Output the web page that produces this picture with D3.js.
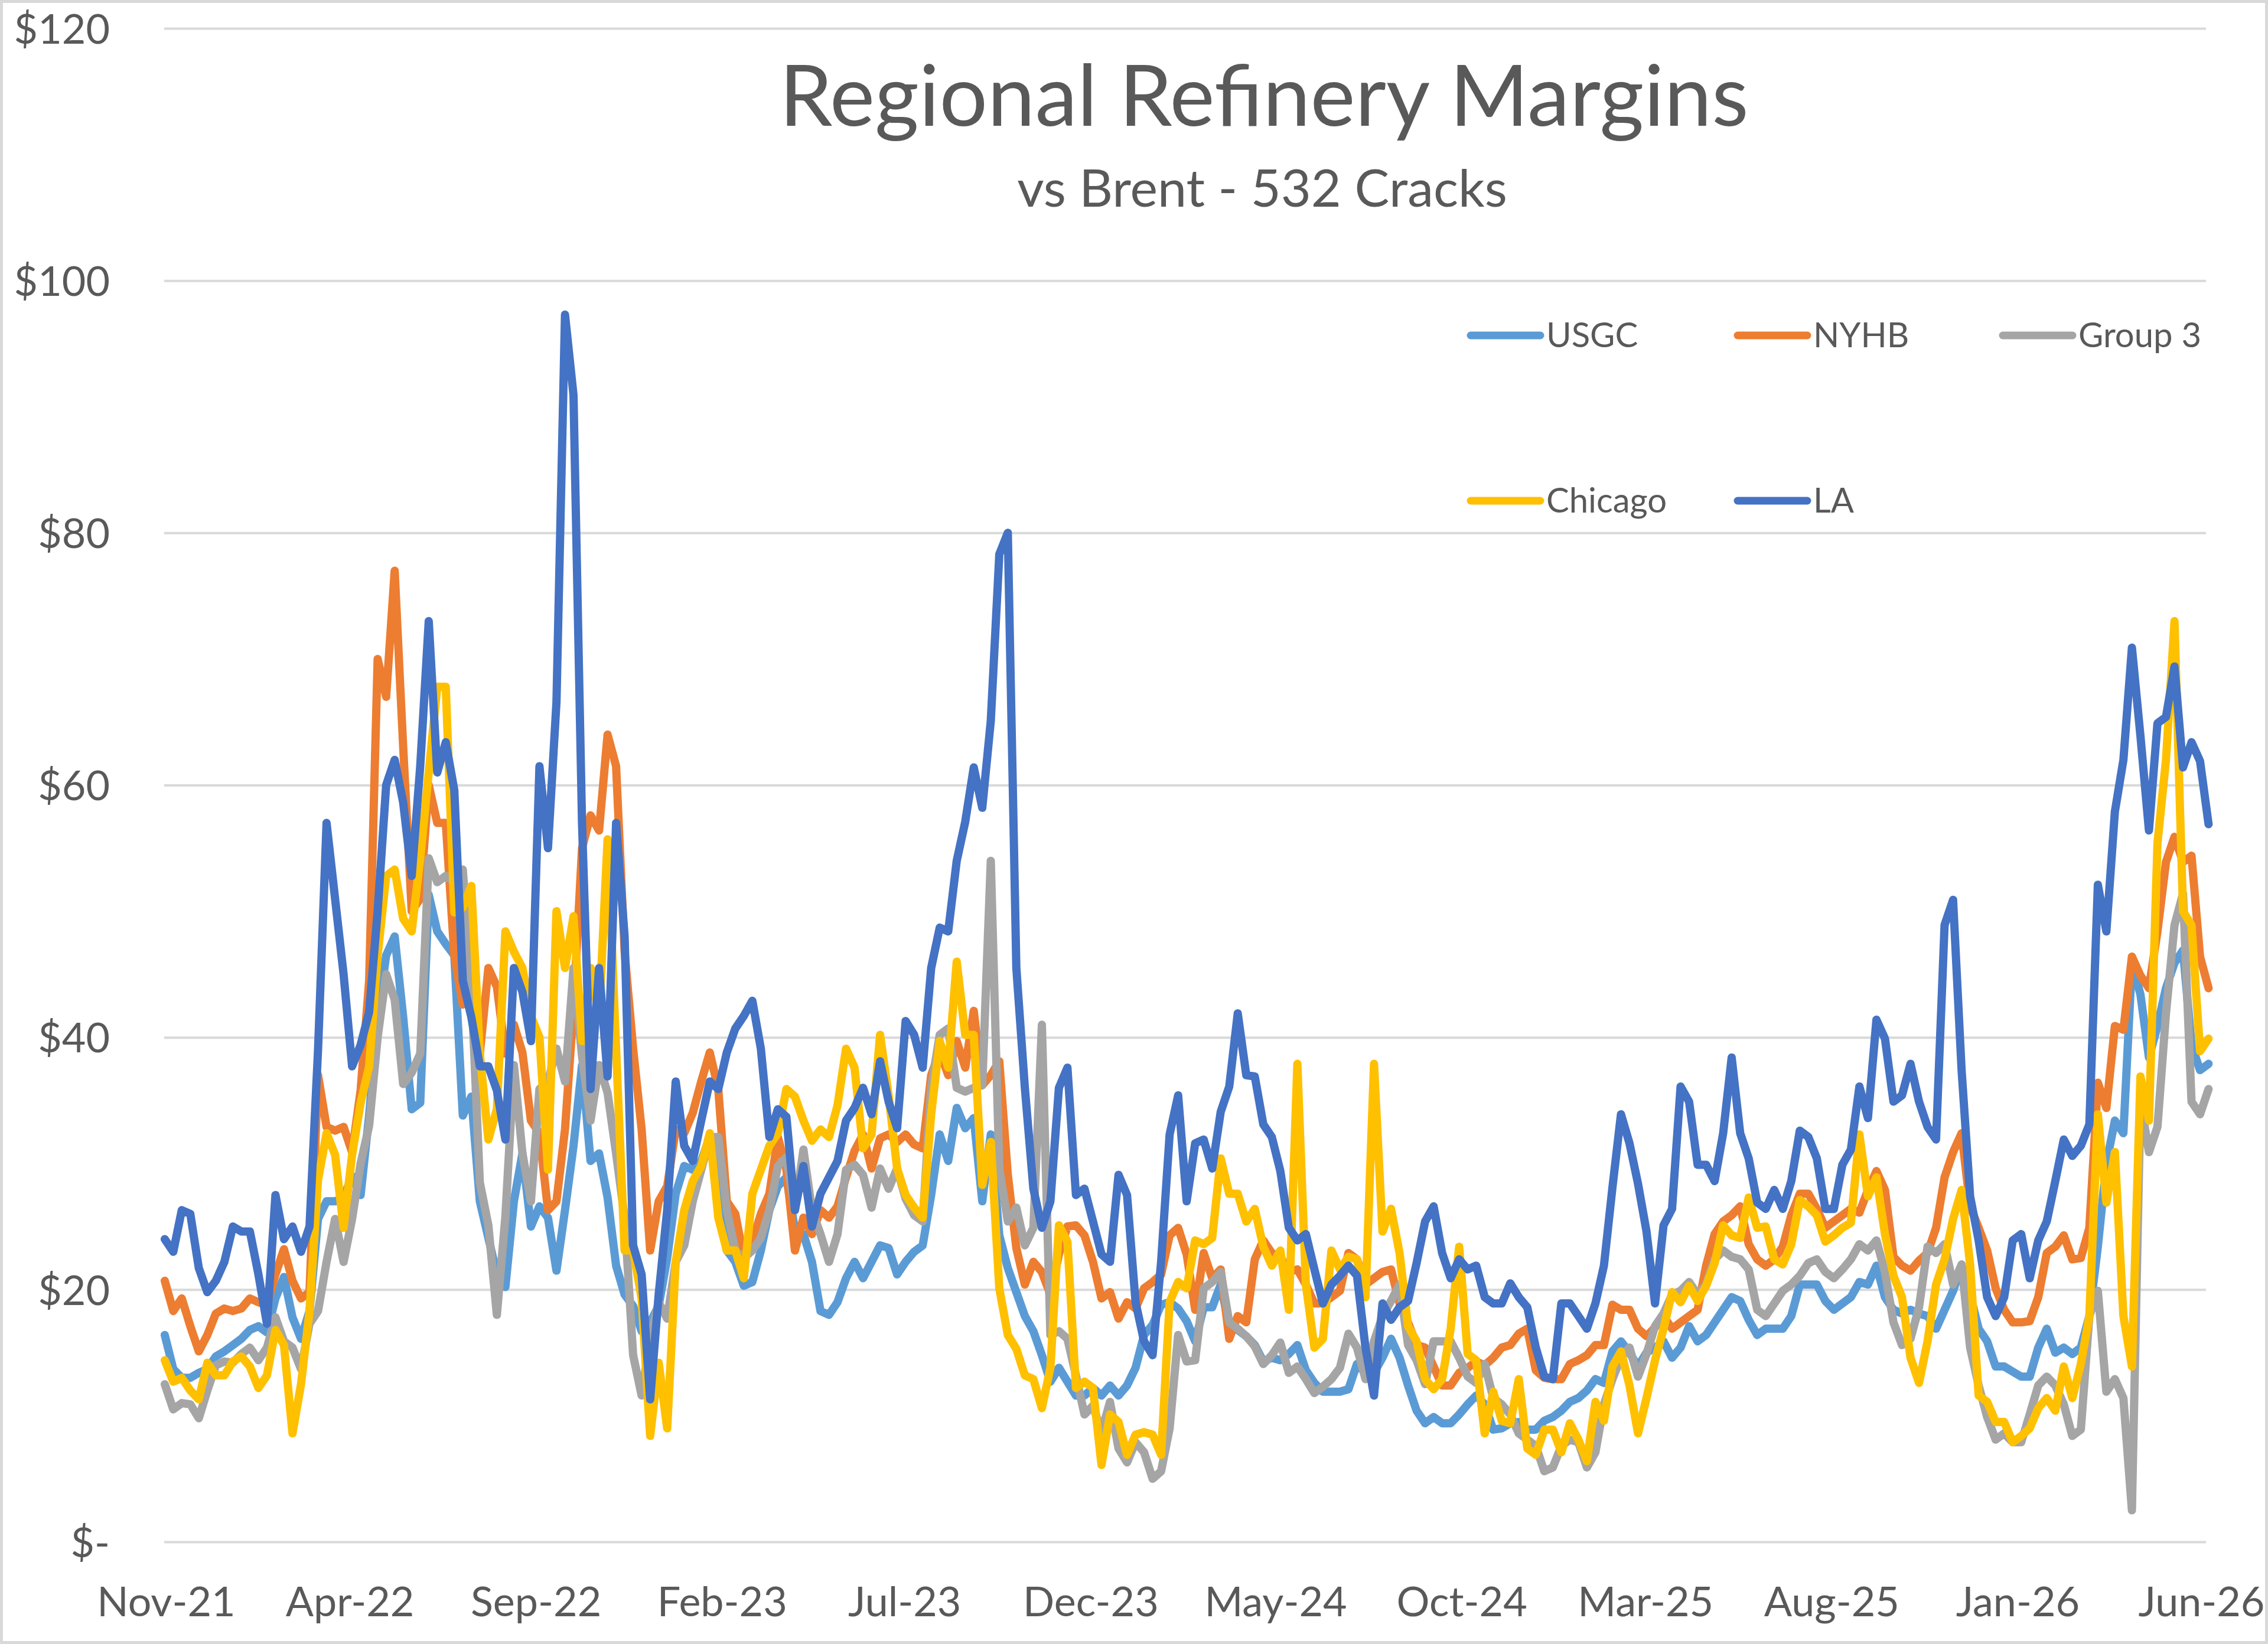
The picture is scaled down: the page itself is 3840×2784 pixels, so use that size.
<!DOCTYPE html>
<html>
<head>
<meta charset="utf-8">
<title>Regional Refinery Margins</title>
<script src="https://cdn.jsdelivr.net/npm/d3@7"></script>
<style>
  body { margin: 0; background: #fff; }
  svg text { font-family: Lato, "Open Sans", sans-serif; fill: #595959; }
</style>
</head>
<body>
<script>
// weekly 532 cracks vs Brent, $/bbl, first week starts 31 Oct 2021
const firstWeek = new Date(2021, 9, 31);

const seriesNames = ['USGC', 'NYHB', 'Group 3', 'Chicago', 'LA'];
const seriesColors = ['#5B9BD5', '#ED7D31', '#A5A5A5', '#FFC000', '#4472C4'];

const xTickLabels = ['Nov-21', 'Apr-22', 'Sep-22', 'Feb-23', 'Jul-23', 'Dec-23',
  'May-24', 'Oct-24', 'Mar-25', 'Aug-25', 'Jan-26', 'Jun-26'];
const yTicks = [0, 20, 40, 60, 80, 100, 120];

const usgc = [
  16.4, 13.7, 13, 13, 13.4, 13.7, 14.7, 15.1, 15.6, 16.1, 16.8, 17.1, 16.6, 19.3, 21, 17.8, 16.1, 18.3, 25.6, 27,
  27, 27.3, 29, 27.5, 33.8, 41.6, 46.5, 48, 41.6, 34.3, 34.8, 51.3, 48.4, 47.4, 46.5, 33.8, 35.3, 27, 24.1, 21.2, 20.2,
  27, 30.8, 25, 26.6, 25.7, 21.5, 26.3, 31.4, 37.8, 30.2, 30.8, 27.3, 21.9, 19.6, 18.7, 16.7, 17.4, 18.7, 22.5, 27.6,
  29.8, 29.5, 30.2, 32.1, 29.2, 23.1, 22.2, 20.3, 20.6, 23.1, 26.3, 28.2, 28.9, 24.7, 24.4, 22.2, 18.3, 18, 19, 20.9,
  22.2, 20.9, 22.2, 23.5, 23.3, 21.2, 22.2, 23, 23.5, 27.5, 32.3, 30.2, 34.4, 32.8, 33.6, 27, 32.3, 24.3, 21.7, 19.8,
  17.9, 16.7, 14.8, 12.7, 13.8, 12.7, 11.6, 11.6, 12.2, 11.6, 12.4, 11.6, 12.4, 13.8, 16.4, 17.2, 18.8, 19, 18.5, 17.5,
  15.9, 18.6, 18.6, 20.4, 17.1, 16.8, 16.3, 15.6, 14.3, 14.6, 14.4, 14.9, 15.6, 13.6, 12.6, 11.9, 11.9, 11.9, 12.1, 14.1,
  13.4, 13.4, 14.6, 16.1, 14.6, 12.4, 10.4, 9.4, 9.9, 9.4,
  9.4, 10.1, 10.9, 11.6, 10.9, 8.9, 9, 9.4, 9.5, 8.9, 8.9, 9.6, 9.9, 10.4, 11.1, 11.4, 12, 12.9, 12.6, 15.1,
  15.9, 15, 13.9, 15, 15.4, 15.9, 14.6, 15.4, 17.1, 15.9,
  16.4, 17.4, 18.4, 19.4, 19.1, 17.6, 16.4, 16.9, 16.9, 16.9, 17.9, 20.4, 20.4, 20.4, 19.1, 18.4, 18.9, 19.4, 20.6, 20.4,
  21.9, 19.4, 18.4, 18.1, 18.4, 18.1, 17.9, 16.9, 18.4, 19.9,
  21.9, 19.6, 16.9, 15.9, 13.9, 13.9, 13.5, 13.1, 13.1, 15.4, 16.9, 15, 15.4, 14.9,
  15.4, 17.9, 23.4, 30, 33.4, 32.4, 45.9, 43.4, 38.4, 40.9, 43.9, 45.9, 46.9, 39.4, 37.4, 37.9
];

const nyhb = [
  20.7, 18.3, 19.3, 17.1, 15.1, 16.4, 18.1, 18.5, 18.3, 18.5, 19.3, 19, 18.8, 21.2, 23.2, 20.7, 19.3, 19.8, 37, 32.9,
  32.6, 32.9, 30.9, 35.8, 44.5, 70, 67, 77, 63, 50, 51, 60, 57, 57, 46.5, 42.6, 43.5, 38.7, 45.5, 44, 38.7,
  41, 38.8, 33.4, 32.4, 26.3, 27, 32.7, 42.3, 55, 57.6, 56.4, 64, 61.5, 46.8, 39.1, 32.7, 23.1, 27, 28.2, 32.7,
  32.4, 34, 36.5, 38.8, 35.9, 27, 26, 22.5, 23.8, 26, 27.6, 32.1, 29.5, 23.1, 25.7, 24.4, 26.3, 25.7, 26.6, 28.9,
  31, 32.3, 29.6, 32, 32.3, 31.7, 32.3, 31.5, 31.2, 37, 38.9, 37, 39.7, 37.6, 42.1, 36.2, 37, 38.1, 29.1, 23.3,
  20.4, 22.2, 21.4, 19.6, 22.8, 25, 25.1, 24.3, 22.2, 19.3, 19.8, 17.7, 19, 18.5, 20.1, 20.6, 21.2, 24.3, 24.9, 22.8,
  18.4, 22.9, 20.9, 21.6, 16.1, 17.9, 17.4, 22.4, 23.9, 22.9, 22.6, 21.4, 21.6, 20.4, 18.9, 18.9, 19.4, 19.9, 22.9, 22.4,
  20.4, 20.9, 21.4, 21.6, 18.9, 17.4, 15.6, 15.4, 13.9, 12.4,
  12.4, 13.4, 13.8, 14.3, 14, 14.6, 15.4, 15.6, 16.5, 16.9, 13.6, 13, 12.9, 12.9, 14.1, 14.4, 14.8, 15.6, 15.6, 18.8,
  18.4, 18.4, 16.9, 16.3, 17, 17.9, 16.9, 17.4, 17.9, 18.4,
  21.9, 24.4, 25.4, 25.9, 26.6, 23.6, 22.4, 21.9, 22.4, 23.4, 25.9, 27.6, 27.6, 26.4, 24.9, 25.4, 25.9, 26.4, 26.1, 27.9,
  29.4, 27.9, 22.6, 21.9, 21.5, 22.3, 22.9, 24.9, 28.9, 30.9,
  32.4, 26.6, 24.9, 23.1, 20.1, 18.4, 17.4, 17.4, 17.5, 19.4, 22.9, 23.4, 24.3, 22.4,
  22.5, 24.9, 36.4, 34.4, 40.9, 40.6, 46.4, 44.9, 43.9, 48.4, 53.9, 55.9, 53.9, 54.4, 46.4, 43.9
];

const group3 = [
  12.5, 10.5, 11, 10.9, 9.8, 12, 14, 14.3, 14.2, 14.9, 15.4, 14.4, 15.4, 17.8, 15.9, 15.4, 13.7, 17.3, 18.3, 22.2,
  25.6, 22.2, 25.6, 30, 33, 40, 45, 43, 36.3, 37.2, 38.7, 54.2, 52.3, 52.8, 52.3, 53.3, 44, 28.5, 25.1, 18, 25.8,
  37.8, 30.8, 27, 35.9, 36.5, 39.1, 36.5, 45.5, 38.5, 33.4, 37.8, 35.6, 30.8, 25.7, 14.8, 11.6, 16.1, 19, 17.7, 22.2,
  23.5, 27, 29.5, 32.1, 32.1, 26.3, 23.1, 22.5, 23.1, 24.1, 26.3, 29.8, 30.5, 26.3, 31.1, 26.3, 24.4, 22.2, 24.4, 29.5,
  29.9, 29.1, 26.5, 29.6, 28, 29.6, 27.2, 25.9, 25.4, 36, 40.2, 40.7, 36, 35.7, 36, 36.2, 54, 29.6, 25.4, 26.5,
  23.5, 24.9, 41, 16.4, 16.7, 16.1, 13.2, 10.1, 10.8, 8.7, 11.1, 7.4, 6.3, 7.9, 7.1, 5, 5.6, 9, 16.4, 14.3,
  14.4, 20.1, 20.6, 21.4, 17.4, 16.9, 16.3, 15.5, 14.1, 14.8, 15.8, 13.4, 13.9, 12.9, 11.8, 12.3, 12.9, 13.8, 16.5, 15.4,
  12.9, 15.9, 17.9, 19.1, 20.4, 15.6, 14.4, 12.5, 15.9, 15.9,
  15.9, 14.6, 13.1, 12.6, 14.1, 11.4, 10.9, 10.1, 8.6, 8.1, 7.6, 5.6, 5.9, 7.6, 8.1, 7.9, 5.9, 7.1, 10.9, 12.9,
  14.6, 15.4, 13.1, 14.9, 17.1, 18.1, 19.6, 19.9, 20.6, 19.6,
  20.4, 22.4, 23.1, 22.6, 22.4, 21.6, 18.4, 17.9, 18.9, 19.9, 20.4, 21.1, 22.1, 22.4, 21.4, 20.9, 21.6, 22.4, 23.6, 23.1,
  23.9, 21.4, 17.4, 15.6, 16.1, 18.6, 23.4, 22.9, 23.6, 20.4,
  22, 15.4, 12.4, 9.9, 8.1, 8.6, 7.9, 7.9, 10.1, 12.4, 13.1, 12.4, 10.9, 8.4,
  8.9, 17.9, 19.9, 11.9, 12.9, 11.4, 2.5, 34.9, 30.9, 32.9, 41.9, 48.9, 51.4, 34.9, 33.9, 35.9
];

const chicago = [
  14.4, 12.7, 13, 12, 11.3, 14.2, 13.2, 13.2, 14.3, 14.7, 13.9, 12.2, 13.2, 16.8, 15.6, 8.6, 12.5, 18.3, 28.7, 32.4,
  30.7, 24.9, 30.7, 34.8, 37.7, 46.5, 52.8, 53.3, 49.4, 48.4, 54.2, 61, 67.8, 67.8, 49.9, 50.3, 52, 38.7, 31.9, 34.3, 48.4,
  46.8, 45.5, 41.7, 40, 29.5, 50, 45.5, 49.6, 39.7, 45.5, 41.7, 55.7, 39.1, 23.1, 23.1, 19.3, 8.4, 14.2, 9, 22.2,
  26.3, 28.6, 29.8, 32.4, 25.7, 23.1, 23.1, 20.9, 27.6, 29.5, 31.4, 32.4, 35.9, 35.3, 33.4, 31.8, 32.7, 32.1, 34.6, 39.1,
  37.6, 31.2, 32.3, 40.2, 35.4, 29.6, 27.5, 26.5, 25.7, 33.9, 39.7, 37.6, 46, 40.2, 40.2, 28.3, 31.7, 20.1, 16.4, 15.3,
  13.2, 12.9, 10.6, 13.8, 25.1, 23.8, 12.2, 12.7, 12.2, 6.1, 10.1, 9.5, 6.9, 8.5, 8.7, 8.5, 6.9, 19, 20.6, 20.1,
  23.9, 23.6, 24.1, 30.4, 27.6, 27.6, 25.4, 26.4, 23.4, 21.9, 23.1, 18.4, 37.9, 20.4, 15.4, 16.1, 23.1, 21.6, 22.6, 22.4,
  19.4, 37.9, 24.6, 26.4, 22.9, 17.1, 15.9, 12.9, 12.1, 12.9,
  16.9, 23.4, 14.9, 14.4, 8.6, 11.9, 9.6, 9.4, 12.9, 7.4, 6.9, 8.9, 8.9, 7.1, 9.4, 8.1, 6.4, 11.1, 9.6, 13.9,
  15.1, 12.4, 8.6, 11.4, 14.4, 16.9, 19.8, 19, 20.3, 19.1,
  20.3, 22.1, 25.1, 24.3, 24.1, 27.3, 24.9, 25, 22.4, 22, 23.6, 27.1, 26.6, 25.9, 23.8, 24.3, 24.9, 25.3, 32.3, 27.4,
  28.9, 24.4, 21.1, 19.4, 14.6, 12.6, 15.9, 20.4, 22.4, 25.6,
  27.9, 22, 11.6, 11.1, 9.5, 9.5, 7.9, 8.4, 9, 10.6, 11.4, 10.4, 13.9, 11.4,
  14.1, 17.9, 33.9, 26.9, 30.9, 17.9, 13.9, 36.9, 33.4, 55.4, 62, 73, 50, 48.9, 38.9, 39.9
];

const la = [
  24, 23, 26.3, 26, 21.7, 19.8, 20.7, 22.2, 25, 24.6, 24.6, 21.2, 17.3, 27.5, 24, 25, 23, 25, 39, 57,
  51, 45, 37.7, 39.4, 42, 50, 60, 62, 58.6, 52.8, 61.5, 73, 61, 63.4, 59.6, 44.5, 41.6, 37.7, 37.7, 35.8, 31.9,
  45.5, 43.6, 39.7, 61.5, 55, 66.6, 97.3, 90.9, 57, 35.9, 45.5, 36.9, 57, 48, 23.5, 21.2, 11.3, 19.6, 26.3, 36.5,
  31.4, 30.2, 33.4, 36.5, 35.9, 38.8, 40.7, 41.7, 42.9, 39.1, 32.1, 34.3, 33.7, 26.3, 29.8, 25, 27.6, 28.9, 30.2, 33.4,
  34.4, 36, 33.9, 38.1, 34.9, 32.8, 41.3, 40.2, 37.6, 45.5, 48.7, 48.4, 54, 57.1, 61.4, 58.2, 65.1, 78.3, 80, 45.5,
  36, 28, 24.9, 27, 36, 37.6, 27.5, 28, 25.4, 22.8, 22.2, 29.1, 27.5, 19, 15.9, 14.8, 22.2, 32.3, 35.4, 27,
  31.6, 31.9, 29.6, 34.1, 36.1, 41.9, 37, 36.9, 33.1, 32.1, 29.4, 24.9, 23.9, 24.4, 21.6, 18.9, 20.4, 21.1, 21.9, 21.1,
  15.4, 11.6, 18.9, 17.6, 18.6, 19.1, 22.1, 25.4, 26.6, 22.9,
  20.9, 22.4, 21.6, 21.9, 19.4, 18.9, 18.9, 20.5, 19.4, 18.6, 15.4, 13.1, 12.9, 18.9, 18.9, 17.9, 16.9, 18.9, 21.9, 28.1,
  33.9, 31.6, 28.4, 24.6, 18.9, 25.1, 26.4, 36.1, 34.9, 29.9,
  29.9, 28.6, 32.4, 38.4, 32.4, 30.4, 26.9, 26.4, 27.9, 26.4, 28.6, 32.6, 32.1, 30.4, 26.4, 26.4, 29.9, 31.1, 36.1, 33.6,
  41.4, 39.9, 34.9, 35.4, 37.9, 34.9, 32.9, 31.9, 48.9, 50.9,
  37.4, 27.4, 23.9, 19.4, 17.9, 19.4, 23.9, 24.4, 20.9, 23.9, 25.4, 28.6, 31.9, 30.6,
  31.4, 33.1, 52.1, 48.4, 57.9, 62, 70.9, 63.9, 56.4, 64.9, 65.4, 69.4, 61.4, 63.4, 61.9, 56.9
];

const seriesValues = [usgc, nyhb, group3, chicago, la];

const weeks = usgc.map((d, i) => d3.timeDay.offset(firstWeek, 7 * i));
const parseLabel = d3.timeParse('%b-%y');
const fmtLabel = d3.timeFormat('%b-%y');

const width = 3840, height = 2784;
const plotLeft = 278, plotRight = 3735, plotTop = 48, plotBottom = 2611;

const svg = d3.select('body').append('svg')
    .attr('width', width)
    .attr('height', height);

svg.append('rect')
    .attr('x', 2.5).attr('y', 2.5)
    .attr('width', width - 5).attr('height', height - 5)
    .attr('fill', '#fff')
    .attr('stroke', '#D9D9D9')
    .attr('stroke-width', 5);

let x = d3.scaleTime()
    .domain([new Date(2021, 10, 1), new Date(2026, 5, 1)])
    .range([281, 3727]);

let y = d3.scaleLinear()
    .domain([0, 120])
    .range([plotBottom, plotTop]);

// y axis with gridlines
let yAxis = d3.axisLeft(y)
    .tickValues(yTicks)
    .tickSize(-(plotRight - plotLeft))
    .tickPadding(92)
    .tickFormat(d => d === 0 ? '$-' : '$' + d);

let gy = svg.append('g')
    .attr('transform', 'translate(' + plotLeft + ',0)')
    .call(yAxis);
gy.select('.domain').remove();
gy.selectAll('line').attr('stroke', '#D9D9D9').attr('stroke-width', 4);
gy.selectAll('text')
    .attr('font-size', 70)
    .attr('dy', '0.36em');
gy.attr('font-family', null).attr('font-size', null);

// x axis labels
let xAxis = d3.axisBottom(x)
    .tickValues(xTickLabels.map(parseLabel))
    .tickSize(0)
    .tickPadding(76)
    .tickFormat(fmtLabel);

let gx = svg.append('g')
    .attr('transform', 'translate(0,' + plotBottom + ')')
    .call(xAxis);
gx.select('.domain').remove();
gx.attr('font-family', null).attr('font-size', null);
gx.selectAll('text').attr('font-size', 70);

// series lines
let line = d3.line()
    .x((d, i) => x(weeks[i]))
    .y(d => y(d));

svg.append('g')
  .selectAll('path')
  .data(seriesValues)
  .join('path')
    .attr('d', line)
    .attr('fill', 'none')
    .attr('stroke', (d, i) => seriesColors[i])
    .attr('stroke-width', 14)
    .attr('stroke-linejoin', 'round')
    .attr('stroke-linecap', 'round');

// titles
svg.append('text')
    .attr('x', 2140).attr('y', 213)
    .attr('text-anchor', 'middle')
    .attr('font-size', 144)
    .text('Regional Refinery Margins');

svg.append('text')
    .attr('x', 2137).attr('y', 350)
    .attr('text-anchor', 'middle')
    .attr('font-size', 88)
    .text('vs Brent - 532 Cracks');

// legend, 3 per row
let legendPos = [[2490, 568], [2942, 568], [3391, 568], [2490, 848], [2942, 848]];

let legend = svg.append('g')
  .selectAll('g')
  .data(seriesNames)
  .join('g')
    .attr('transform', (d, i) => 'translate(' + legendPos[i][0] + ',' + legendPos[i][1] + ')');

legend.append('line')
    .attr('x1', 0).attr('x2', 118)
    .attr('stroke', (d, i) => seriesColors[i])
    .attr('stroke-width', 13)
    .attr('stroke-linecap', 'round');

legend.append('text')
    .attr('x', 128)
    .attr('y', 20)
    .attr('font-size', 58)
    .text(d => d);
</script>
</body>
</html>
